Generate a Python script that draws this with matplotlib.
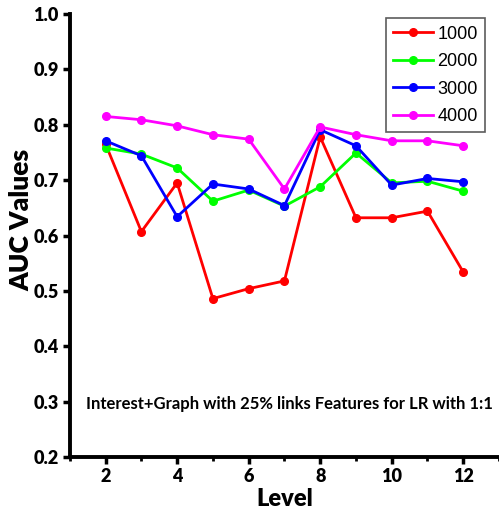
import numpy as np
import matplotlib.pyplot as plt
from matplotlib.ticker import MultipleLocator

levels = [2, 3, 4, 5, 6, 7, 8, 9, 10, 11, 12]
auc_1000 = [0.765, 0.607, 0.695, 0.486, 0.504, 0.518, 0.778, 0.632, 0.632, 0.644, 0.534]
auc_2000 = [0.758, 0.747, 0.722, 0.662, 0.682, 0.653, 0.688, 0.749, 0.695, 0.698, 0.680]
auc_3000 = [0.771, 0.744, 0.634, 0.693, 0.684, 0.654, 0.791, 0.762, 0.691, 0.703, 0.697]
auc_4000 = [0.815, 0.809, 0.798, 0.782, 0.774, 0.684, 0.796, 0.782, 0.771, 0.771, 0.762]
series_names = ["1000", "2000", "3000", "4000"]
colors = ["#ff0000", "#00ff00", "#0000ff", "#ff00ff"]

narrow = ["Lato", "DejaVu Sans"]

fig = plt.figure(figsize=(4.99, 5.16), dpi=100)
ax = fig.add_axes([0.140, 0.1143, 0.86, 0.8586])

for vals, name, c in zip([auc_1000, auc_2000, auc_3000, auc_4000], series_names, colors):
    ax.plot(levels, vals, color=c, marker="o", markersize=5.5, linewidth=2.0, label=name)

ax.set_xlim(1, 13)
ax.set_ylim(0.2, 1.0)
ax.xaxis.set_minor_locator(MultipleLocator(1))

for side in ["top", "right"]:
    ax.spines[side].set_visible(False)
for side in ["left", "bottom"]:
    ax.spines[side].set_linewidth(2.8)

ax.tick_params(axis="both", which="major", direction="out", length=5, width=2.5, pad=3)
ax.tick_params(axis="x", which="minor", direction="out", length=3, width=2)

ax.set_xticks([2, 4, 6, 8, 10, 12])
ax.set_xticklabels(["2", "4", "6", "8", "10", "12"], family=narrow, fontweight="heavy", fontsize=13)
yt = [0.2, 0.3, 0.4, 0.5, 0.6, 0.7, 0.8, 0.9, 1.0]
ax.set_yticks(yt)
ax.set_yticklabels(["%.1f" % v for v in yt], family=narrow, fontweight="heavy", fontsize=13)

ax.set_xlabel("Level", fontsize=17, fontweight="heavy", family=narrow, labelpad=2)
ax.set_ylabel("AUC Values", fontsize=19, fontweight="heavy", family=narrow)
ax.yaxis.set_label_coords(-0.086, 0.535)

ax.text(7.15, 0.296, "Interest+Graph with 25% links Features for LR with 1:1",
        ha="center", va="center", fontsize=12, fontweight="bold", family=narrow)

leg = ax.legend(loc="upper right", bbox_to_anchor=(0.967, 0.99),
                prop={"family": "Liberation Sans", "size": 13},
                frameon=True, fancybox=False, edgecolor="#333333", handlelength=2.2,
                borderpad=0.4, labelspacing=0.58, handletextpad=0.25, borderaxespad=0)
leg.get_frame().set_linewidth(1.2)

fig.savefig("out.png", dpi=100)
